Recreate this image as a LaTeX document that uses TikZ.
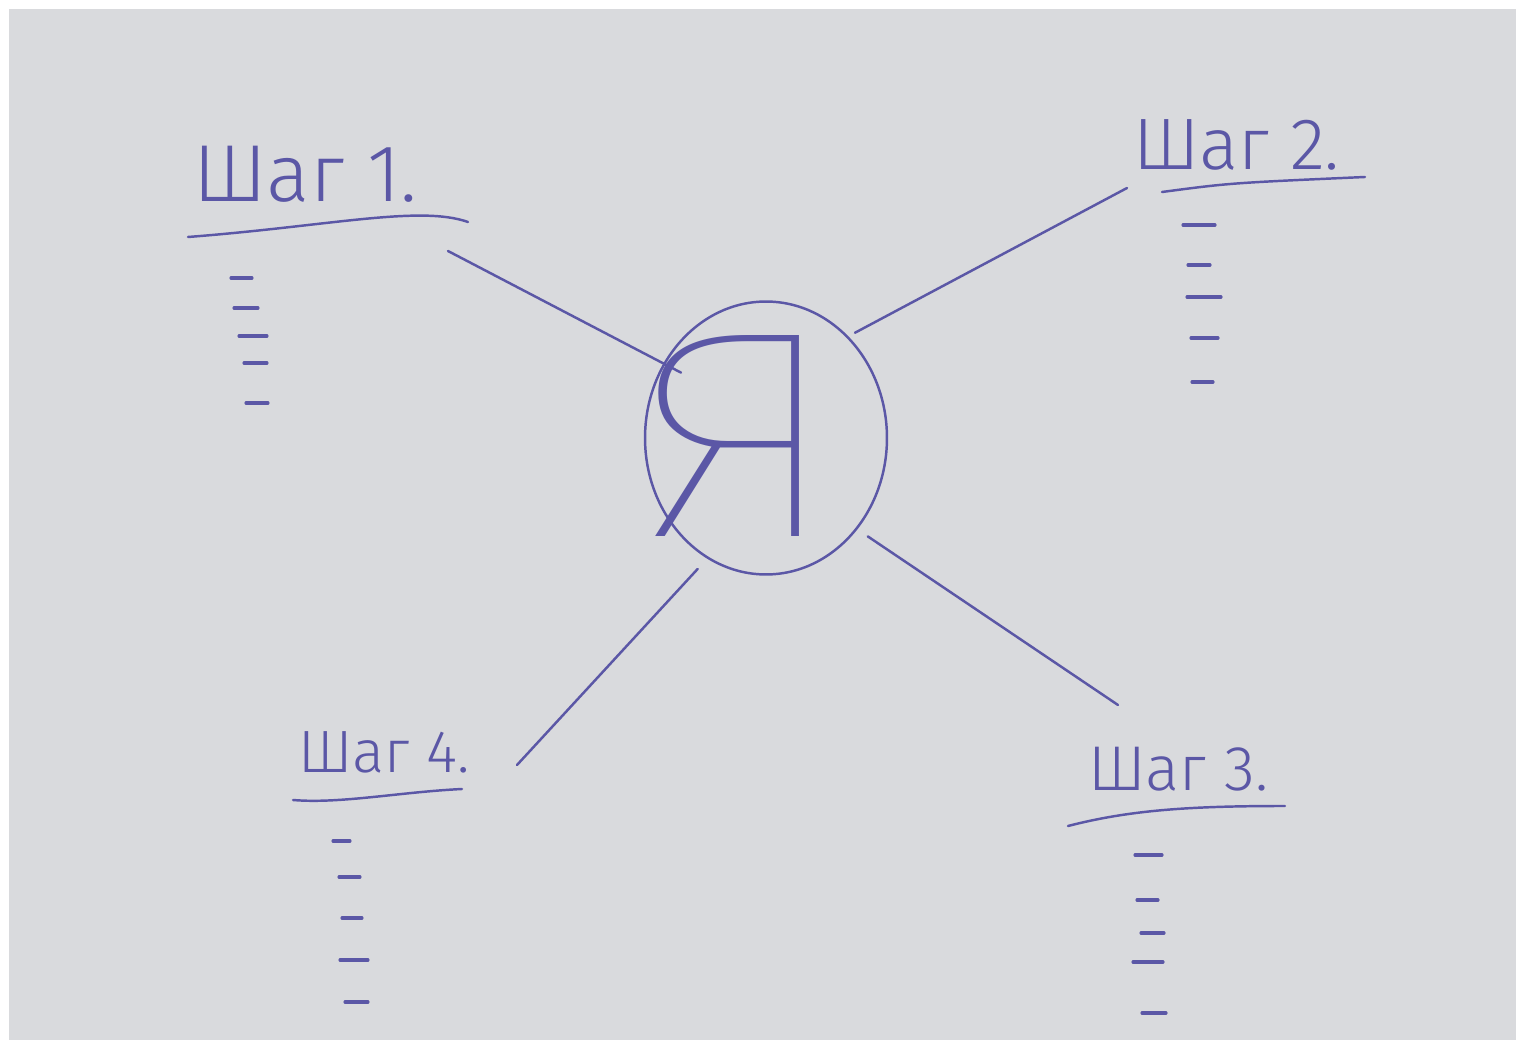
\documentclass[tikz,border=0pt]{standalone}
\usepackage{fontspec}
\setmainfont{Fira Sans Light}
\newfontfamily\hairfont{Fira Sans Thin}
\usetikzlibrary{
    shapes.geometric
}
\definecolor{ink}{HTML}{5B57A6}
\definecolor{paper}{HTML}{D9DADD}
\tikzset {
    pen line/.style = {draw = ink, line width = 1.4pt, line cap = round},
    list dash/.style = {pen line, line width = 1.8pt},
    ring/.style = {ellipse, draw = ink, line width = 1.4pt, inner sep = 0pt},
    step label/.style = {
        text = ink,
        font = \fontsize{#1}{#1}\selectfont,
        anchor = base west,
        inner sep = 0pt
    }
}
\begin{document}
\begin{tikzpicture}[x = 0.02cm, y = -0.02cm]
    \useasboundingbox (0, 0) rectangle (1516, 1040);
    \fill [paper] (9, 9) rectangle (1516, 1040);
    % centre
    \node (me ring) [ring, minimum width = 4.84cm, minimum height = 5.46cm] at (766, 438) {};
    \node (me) [text = ink, inner sep = 0pt, font = \hairfont\fontsize{168}{168}\selectfont] at (740, 436) {\scalebox{1.2}[1]{Я}};
    % steps
    \node (step 1) [step label = 46] at (193, 202) {Шаг 1.};
    \node (step 2) [step label = 41.5] at (1133, 170) {Шаг 2.};
    \node (step 3) [step label = 36] at (1088, 790) {Шаг 3.};
    \node (step 4) [step label = 34] at (298, 772) {Шаг 4.};
    \draw [pen line] (188, 237) .. controls (330, 226) and (420, 205) .. (468, 222);
    \draw [pen line] (1162, 192) .. controls (1230, 183) .. (1365, 177);
    \draw [pen line] (1068, 826) .. controls (1130, 810) and (1190, 806) .. (1285, 806);
    \draw [pen line] (293, 800) .. controls (340, 804) and (400, 792) .. (462, 789);
    % arms
    \coordinate (arm 1) at (448, 251);
    \coordinate (arm 2) at (1127, 188);
    \coordinate (arm 3) at (1118, 705);
    \coordinate (arm 4) at (517, 765);
    \draw [pen line, shorten <= -0.4cm] (me ring.144) -- (arm 1);
    \draw [pen line, shorten <= 0.15cm] (me ring.51) -- (arm 2);
    \draw [pen line, shorten <= 0.25cm] (me ring.-45) -- (arm 3);
    \draw [pen line, shorten <= 0.28cm] (me ring.-116) -- (arm 4);
    % lists
    \foreach \xa/\xb/\y in {231/252/278, 234/258/308, 239/267/336, 244/267/363, 246/268/403}
        \draw [list dash] (\xa, \y) -- (\xb, \y);
    \foreach \xa/\xb/\y in {1183/1215/225, 1188/1210/265, 1187/1221/297, 1191/1218/338, 1192/1213/382}
        \draw [list dash] (\xa, \y) -- (\xb, \y);
    \foreach \xa/\xb/\y in {1135/1162/855, 1137/1158/900, 1141/1164/933, 1133/1163/962, 1142/1166/1013}
        \draw [list dash] (\xa, \y) -- (\xb, \y);
    \foreach \xa/\xb/\y in {333/350/841, 339/360/877, 342/362/918, 340/368/960, 345/368/1002}
        \draw [list dash] (\xa, \y) -- (\xb, \y);
\end{tikzpicture}
\end{document}
